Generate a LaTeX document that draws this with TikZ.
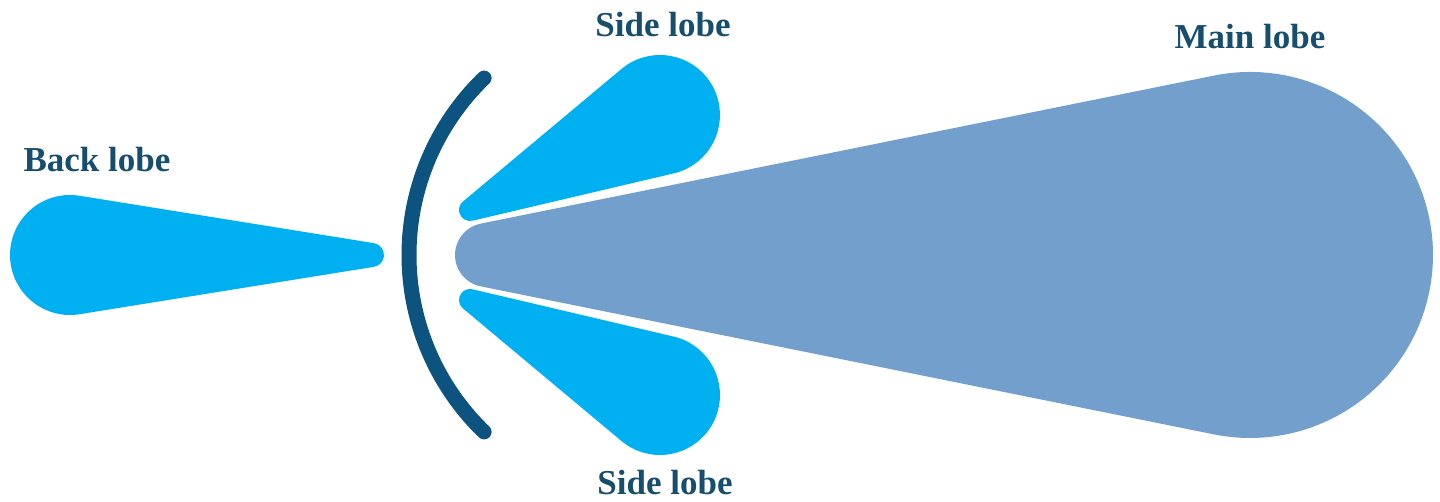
\documentclass[tikz,border=0pt]{standalone}
\usepackage{fontspec}
\setmainfont{Liberation Serif}
\definecolor{lobecyan}{HTML}{00B0F0}
\definecolor{mainblue}{HTML}{739FCD}
\definecolor{arcblue}{HTML}{0C5380}
\definecolor{labelblue}{HTML}{174E6E}
\newcommand\lobeshape[4]{% #1 colour, #2 distance, #3 small radius, #4 big radius
  \pgfmathsetmacro\lbth{asin((#4-#3)/#2)}%
  \pgfmathsetmacro\lbal{90+\lbth}%
  \fill[#1] (\lbal:#3) -- ([shift={(#2,0)}]\lbal:#4)
    arc[start angle=\lbal, end angle=-\lbal, radius=#4]
    -- (-\lbal:#3)
    arc[start angle=-\lbal, end angle=\lbal-360, radius=#3] -- cycle;}
\tikzset{
  lobelabel/.style={font=\fontsize{35}{40}\selectfont\bfseries, text=labelblue, anchor=base, inner sep=0pt},
  reflector/.style={draw=arcblue, line width=15pt, line cap=round}
}
\begin{document}
\begin{tikzpicture}[x=1pt,y=1pt]
\useasboundingbox (0,0) rectangle (1440,502);
% main lobe
\begin{scope}[shift={(487,247)}]
  \lobeshape{mainblue}{763}{32}{183}
\end{scope}
% back lobe
\begin{scope}[shift={(372,247)},rotate=180]
  \lobeshape{lobecyan}{302}{12}{60}
\end{scope}
% upper side lobe
\begin{scope}[shift={(470,292)},rotate=26.57]
  \lobeshape{lobecyan}{212.4}{11}{60}
\end{scope}
% lower side lobe
\begin{scope}[shift={(470,202)},rotate=-26.57]
  \lobeshape{lobecyan}{212.4}{11}{60}
\end{scope}
% reflector arc
\coordinate (arccentre) at (655,247);
\draw[reflector] (arccentre) ++(134:246) arc[start angle=134, end angle=226, radius=246];
% labels
\node[lobelabel] (sidetop) at (663,465) {Side lobe};
\node[lobelabel] (sidebot) at (665,7) {Side lobe};
\node[lobelabel] (back) at (97,330) {Back lobe};
\node[lobelabel] (main) at (1250,453) {Main lobe};
\end{tikzpicture}
\end{document}
